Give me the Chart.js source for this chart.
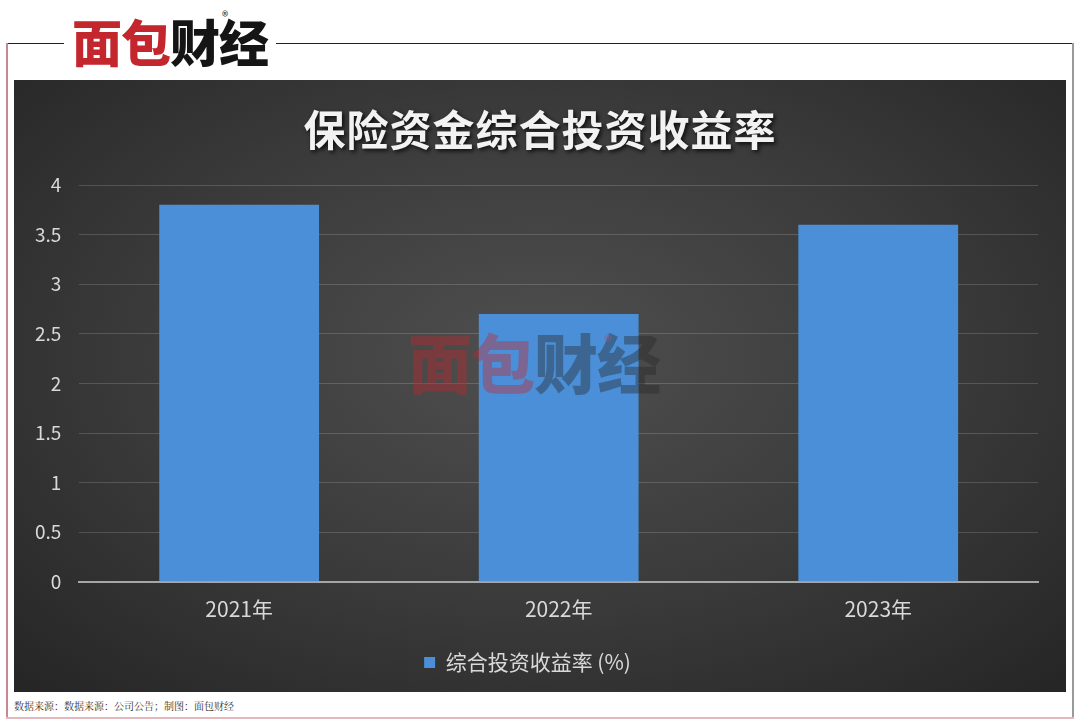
<!DOCTYPE html>
<html>
<head>
<meta charset="utf-8">
<script src="https://cdn.jsdelivr.net/npm/chart.js@4/dist/chart.umd.min.js"></script>
<style>
  html, body { margin: 0; padding: 0; background: #fff; }
  body { width: 1080px; height: 724px; position: relative; overflow: hidden; font-family: "Noto Sans CJK SC", "Noto Sans", sans-serif; }
  .frame-top { position: absolute; left: 7px; top: 43px; width: 1066px; height: 1px; background: #222; }
  .frame-left { position: absolute; left: 6px; top: 43px; width: 2px; height: 676px; background: #c98890; }
  .frame-right { position: absolute; left: 1072px; top: 43px; width: 2px; height: 676px; background: #9a9a9a; }
  .frame-bottom { position: absolute; left: 6px; top: 717px; width: 1068px; height: 2px; background: #e2b8bc; }
  .logo { position: absolute; left: 64px; top: 4px; padding: 0 8px; background: #fff; font-weight: 900; font-size: 50px; line-height: 72px; letter-spacing: -1px; white-space: nowrap; }
  .logo .r { color: #c3262d; }
  .logo .k { color: #151515; }
  .logo sup { position: absolute; left: 158px; top: -24px; font-size: 13px; font-weight: 400; color: #333; }
  .panel { position: absolute; left: 14px; top: 80px; width: 1052px; height: 612px;
    background: radial-gradient(ellipse 70% 75% at 50% 45%, #4f4f4f 0%, #3a3a3a 55%, #262626 100%); }
  .wm { position: absolute; left: 408px; top: 318px; font-weight: 900; font-size: 64px; line-height: 84px; letter-spacing: -1px; opacity: 0.4; white-space: nowrap; pointer-events: none; }
  .wm .r { color: #c3262d; }
  .wm .k { color: #2a2a2a; }
  .wm sup { position: absolute; left: 196px; top: -20px; font-size: 16px; font-weight: 400; color: #c3262d; }
  .src { position: absolute; left: 14px; top: 698px; font-family: "Noto Serif CJK SC", "Noto Sans CJK SC", serif; font-size: 10px; color: #333; }
</style>
</head>
<body>
<div class="frame-top"></div>
<div class="frame-left"></div>
<div class="frame-right"></div>
<div class="frame-bottom"></div>
<div class="logo"><span class="r">面包</span><span class="k">财经</span><sup>®</sup></div>
<div class="panel"><canvas id="chart" width="1052" height="612"></canvas></div>
<div class="wm"><span class="r">面包</span><span class="k">财经</span><sup>®</sup></div>
<div class="src">数据来源：数据来源：公司公告；制图：面包财经</div>
<script>
const TITLE = '保险资金综合投资收益率';
const SERIES_NAME = '综合投资收益率 (%)';
const YEARS = ['2021年', '2022年', '2023年'];
const RETURNS = [3.8, 2.7, 3.6];
const Y_MIN = 0;
const Y_MAX = 4;
const Y_STEP = 0.5;

const BAR_COLOR = '#4a8fd8';
const LABEL_COLOR = '#d9d9d9';
const GRID_COLOR = 'rgba(255,255,255,0.16)';
const ZERO_COLOR = '#a6a6a6';
const FONT = '"Noto Sans CJK SC", "Noto Sans", sans-serif';

// title with a soft shadow, drawn on the chart canvas
const shadowTitle = {
  id: 'shadowTitle',
  afterDraw(chart) {
    const { ctx } = chart;
    ctx.save();
    ctx.font = `bold 42px ${FONT}`;
    ctx.letterSpacing = '1px';
    ctx.fillStyle = '#f2f2f2';
    ctx.textAlign = 'center';
    ctx.textBaseline = 'middle';
    ctx.shadowColor = 'rgba(0,0,0,0.8)';
    ctx.shadowBlur = 4;
    ctx.shadowOffsetX = 2;
    ctx.shadowOffsetY = 2;
    ctx.fillText(TITLE, chart.width / 2, 50);
    ctx.restore();
  },
};

new Chart(document.getElementById('chart'), {
  type: 'bar',
  data: {
    labels: YEARS,
    datasets: [{
      label: SERIES_NAME,
      data: RETURNS,
      backgroundColor: BAR_COLOR,
      borderWidth: 0,
      categoryPercentage: 0.5,
      barPercentage: 1,
    }],
  },
  options: {
    responsive: false,
    animation: false,
    layout: { padding: { top: 105, left: 3, right: 28, bottom: 9 } },
    plugins: {
      title: { display: false },
      tooltip: { enabled: false },
      legend: {
        position: 'bottom',
        labels: {
          color: LABEL_COLOR,
          boxWidth: 11,
          boxHeight: 11,
          padding: 23,
          font: { family: FONT, size: 21 },
        },
      },
    },
    scales: {
      x: {
        grid: { display: false },
        border: { color: ZERO_COLOR, width: 2 },
        ticks: { color: LABEL_COLOR, padding: 7, font: { family: FONT, size: 21 } },
      },
      y: {
        min: Y_MIN,
        max: Y_MAX,
        ticks: {
          stepSize: Y_STEP,
          color: LABEL_COLOR,
          padding: 18,
          font: { family: FONT, size: 19 },
          callback: (v) => String(v),
        },
        grid: { color: GRID_COLOR, drawTicks: false },
        border: { display: false },
      },
    },
  },
  plugins: [shadowTitle],
});
</script>
</body>
</html>
